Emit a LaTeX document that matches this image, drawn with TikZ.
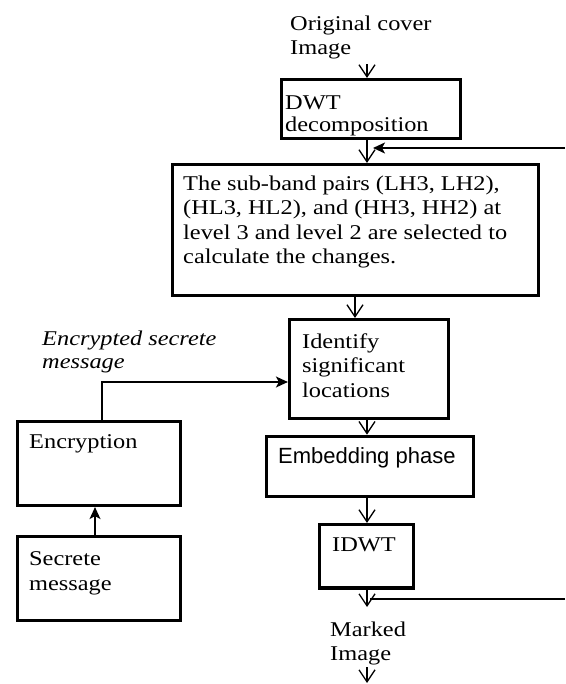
\documentclass[tikz,border=0pt]{standalone}
\usepackage{fontspec}
\setmainfont{Liberation Serif}[FakeStretch=1.16]
\newfontfamily\embfont{Liberation Sans}
\usetikzlibrary{arrows.meta}
\begin{document}
\begin{tikzpicture}[x=1pt,y=-1pt,
  box/.style={draw, line width=3.2pt, inner sep=0pt},
  txt/.style={inner sep=0pt, anchor=north west, align=left, font=\fontsize{21}{24}\selectfont},
  varr/.style={line width=1.3pt, -{Straight Barb[length=12pt,width=16pt,line width=1.3pt]}},
  sarr/.style={line width=1.4pt, -{Stealth[length=12pt,width=11pt,inset=3pt]}},
  plain/.style={line width=1.4pt}]
\useasboundingbox (0,0) rectangle (565,684);
% boxes
\node[box, minimum width=179pt, minimum height=59pt] (dwt) at (371,109) {};
\node[box, minimum width=366pt, minimum height=131pt] (sub) at (355.5,230) {};
\node[box, minimum width=159pt, minimum height=99pt] (ident) at (369,369) {};
\node[box, minimum width=207pt, minimum height=60.5pt] (embed) at (370,466.5) {};
\node[box, minimum width=94pt, minimum height=63.5pt] (idwt) at (366.5,556.25) {};
\node[box, minimum width=163pt, minimum height=84pt] (enc) at (99,463.5) {};
\node[box, minimum width=163pt, minimum height=84pt] (sec) at (99,578.5) {};
% texts
\node[txt] (orig) at (290,15.7) {Original cover\\Image};
\node[txt, font=\fontsize{21}{22}\selectfont] (dwtt) at (285,96) {DWT\\decomposition};
\node[txt, font=\fontsize{21}{24.4}\selectfont] (subt) at (183,175.5) {The sub-band pairs (LH3, LH2),\\(HL3, HL2), and (HH3, HH2) at\\level 3 and level 2 are selected to\\calculate the changes.};
\node[txt, font=\fontsize{21}{24.5}\selectfont] (identt) at (302,333.5) {Identify\\significant\\locations};
\node[txt, font=\embfont\fontsize{22}{24}\selectfont] (embedt) at (278,447) {Embedding phase};
\node[txt] (idwtt) at (332,538) {IDWT};
\node[txt, font=\fontsize{21}{23}\selectfont\itshape] (enct) at (42,331) {Encrypted secrete\\message};
\node[txt] (encbt) at (29,434) {Encryption};
\node[txt, font=\fontsize{21}{25}\selectfont] (sect) at (29,551) {Secrete\\message};
\node[txt] (marked) at (330,622) {Marked\\Image};
% helper coordinates
\coordinate (xa) at (367,0);
\coordinate (xb) at (355,0);
\coordinate (fbA) at (565,148);
\coordinate (fbAend) at (373,148);
\coordinate (fbB) at (565,599);
\coordinate (fbBend) at (370,599);
\coordinate (outend) at (367,607);
\coordinate (finalA) at (367,667);
\coordinate (finalB) at (367,683);
\coordinate (bend) at (102,382);
\coordinate (xs) at (95,0);
% connectors
\draw[varr] (orig.south -| xa) ++(0,5) -- (dwt.north -| xa);
\draw[varr] (dwt.south -| xa) -- (sub.north -| xa);
\draw[sarr] (fbA) -- (fbAend);
\draw[varr] (sub.south -| xb) -- (ident.north -| xb);
\draw[varr] (ident.south -| xa) -- (embed.north -| xa);
\draw[varr] (embed.south -| xa) -- (idwt.north -| xa);
\draw[varr] (idwt.south -| xa) -- (outend);
\draw[plain] (fbB) -- (fbBend);
\draw[varr] (finalA) -- (finalB);
\draw[sarr] (enc.north -| bend) |- (ident.west |- bend);
\draw[sarr] (sec.north -| xs) -- (enc.south -| xs);
\end{tikzpicture}
\end{document}
